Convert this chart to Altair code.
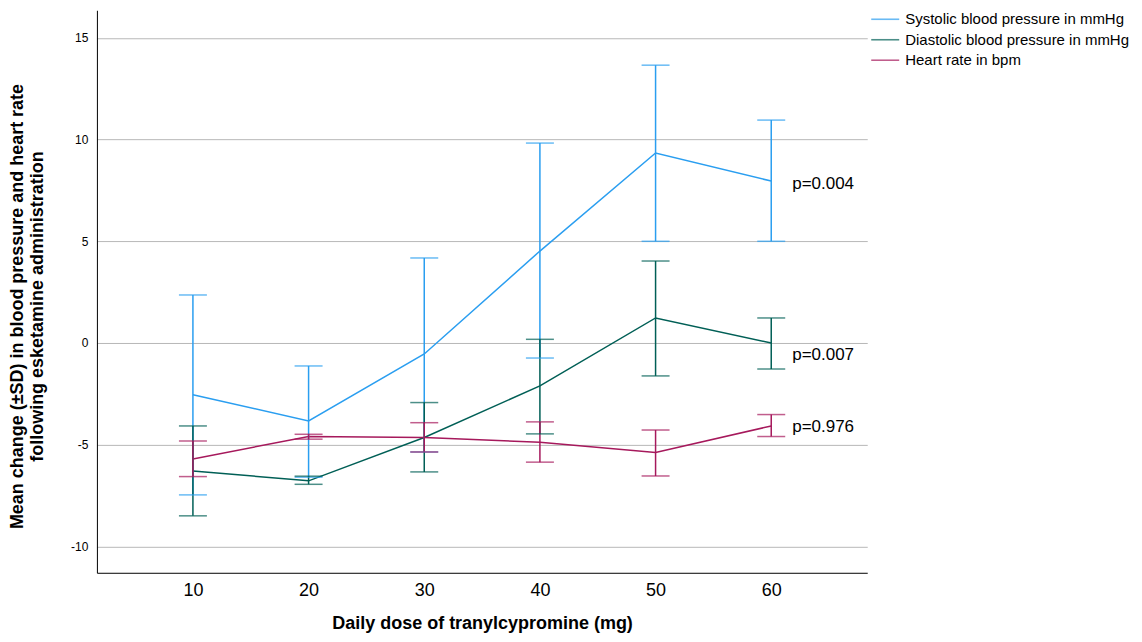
import altair as alt
import pandas as pd

doses = [10, 20, 30, 40, 50, 60]
series_names = ["Systolic blood pressure in mmHg",
                "Diastolic blood pressure in mmHg",
                "Heart rate in bpm"]
colors = ["#2a9ef0", "#005f56", "#a6195c"]

sys_mean = [-2.55, -3.83, -0.54, 4.52, 9.34, 7.96]
sys_lo = [-7.47, -6.60, -5.36, -0.74, 5.00, 5.00]
sys_hi = [2.36, -1.13, 4.18, 9.83, 13.66, 10.96]

dia_mean = [-6.29, -6.78, -4.65, -2.11, 1.23, 0.00]
dia_lo = [-8.50, -6.95, -6.34, -4.47, -1.62, -1.28]
dia_hi = [-4.08, -6.55, -2.93, 0.18, 4.03, 1.23]

hr_mean = [-5.70, -4.60, -4.65, -4.88, -5.39, -4.08]
hr_lo = [-6.57, -4.73, -5.36, -5.86, -6.54, -4.60]
hr_hi = [-4.82, -4.49, -3.92, -3.88, -4.28, -3.52]

p_labels = ["p=0.004", "p=0.007", "p=0.976"]
p_y = [7.81, -0.59, -4.13]

rows = []
for name, m, lo, hi in zip(series_names, [sys_mean, dia_mean, hr_mean],
                           [sys_lo, dia_lo, hr_lo], [sys_hi, dia_hi, hr_hi]):
    for d, a, b, c in zip(doses, m, lo, hi):
        rows.append({"dose": d, "series": name, "mean": a, "lo": b, "hi": c})
df = pd.DataFrame(rows)

pdf = pd.DataFrame({"dose": [60] * 3, "y": p_y, "label": p_labels})

FONT = "Liberation Sans"

x = alt.X("dose:Q", scale=alt.Scale(domain=[1.7, 68.3], nice=False, zero=False),
          axis=alt.Axis(values=doses, grid=False, ticks=False, tickSize=0,
                        labelFontSize=18, labelPadding=9, labelColor="#000",
                        domainColor="#000", title="Daily dose of tranylcypromine (mg)",
                        titleFontSize=18, titleFontWeight="bold", titlePadding=15,
                        titleColor="#000"))
yscale = alt.Scale(domain=[-11.3, 16.36], nice=False, zero=False)
y = alt.Y("mean:Q", scale=yscale,
          axis=alt.Axis(values=[-10, -5, 0, 5, 10, 15], grid=True, gridColor="#b8b8b8",
                        ticks=False, tickSize=0, labelFontSize=12, labelPadding=9,
                        labelExpr="'' + datum.value",
                        labelColor="#000", domainColor="#000",
                        title=["Mean change (±SD) in blood pressure and heart rate",
                               "following esketamine administration"],
                        titleFontSize=18, titleFontWeight="bold", titleColor="#000",
                        titleX=-70, titleY=296))
legend = alt.Legend(orient="none", legendX=778, legendY=-2, title=None,
                    symbolType="M-1.4,0H1.4", symbolStrokeWidth=1.6,
                    symbolSize=400, labelFontSize=15, labelLimit=400,
                    labelColor="#000", rowPadding=1.5, labelOffset=9)
color = alt.Color("series:N", scale=alt.Scale(domain=series_names, range=colors),
                  legend=legend)

base = alt.Chart(df)
lines = base.mark_line(strokeWidth=1.5).encode(x=x, y=y, color=color)
rules = base.mark_rule(strokeWidth=1.5).encode(
    x="dose:Q", y=alt.Y("lo:Q", scale=yscale), y2="hi:Q", color=color)
caps_lo = base.mark_tick(orient="horizontal", size=28, thickness=1.5).encode(
    x="dose:Q", y=alt.Y("lo:Q", scale=yscale), color=color)
caps_hi = base.mark_tick(orient="horizontal", size=28, thickness=1.5).encode(
    x="dose:Q", y=alt.Y("hi:Q", scale=yscale), color=color)
ptext = alt.Chart(pdf).mark_text(align="left", baseline="middle", dx=21, fontSize=17,
                                 font=FONT, color="#000").encode(
    x="dose:Q", y=alt.Y("y:Q", scale=yscale), text="label:N")

chart = alt.layer(lines, rules, caps_lo, caps_hi, ptext).properties(
    width=771, height=563, autosize="none",
    padding={"left": 89, "top": 2, "right": 267, "bottom": 61}
).configure(font=FONT, background="white").configure_view(stroke=None)

chart.save("out.html", embed_options={"renderer": "svg", "actions": False})
